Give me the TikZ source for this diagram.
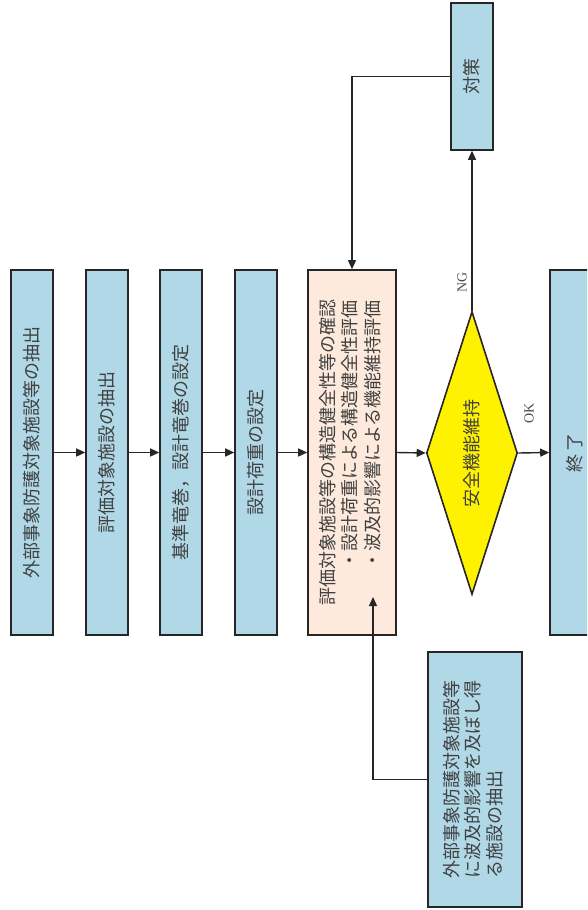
\documentclass[tikz,border=0pt]{standalone}
\usepackage{fontspec}
\setmainfont{Liberation Serif}
\newfontfamily\jp{Noto Sans CJK JP}
\usetikzlibrary{arrows.meta,shapes.geometric}

\begin{document}
\begin{tikzpicture}[
  x=1pt,y=-1pt,
  box/.style={draw=black!85,fill=cyan!25!blue!10!white,line width=1.6pt,
    minimum width=42pt,minimum height=365pt,inner sep=0pt,
    font=\jp\fontsize{18}{22.5}\selectfont,text=black!75},
  check/.style={box,fill=orange!12,minimum width=88pt},
  decision/.style={diamond,draw=black!85,fill=yellow,line width=1.6pt,
    aspect=0.32,minimum width=91pt,minimum height=283pt,inner sep=0pt,
    font=\jp\fontsize{18}{22.5}\selectfont,text=black!75},
  arrow/.style={draw=black!85,line width=1.4pt,-{Triangle[length=9pt,width=8pt]}},
  note/.style={font=\fontsize{14}{16}\selectfont,text=black!70},
]
\definecolor{boxblue}{RGB}{176,216,230}
\definecolor{boxpink}{RGB}{253,234,220}
\tikzset{box/.append style={fill=boxblue},check/.append style={fill=boxpink}}
\useasboundingbox (0,0) rectangle (587,910);

% Main chain
\node[box] (extract) at (32,452.5) {\rotatebox{90}{外部事象防護対象施設等の抽出}};
\node[box] (select) at (107,452.5) {\rotatebox{90}{評価対象施設の抽出}};
\node[box] (tornado) at (181,452.5) {\rotatebox{90}{基準竜巻，設計竜巻の設定}};
\node[box] (load) at (256,452.5) {\rotatebox{90}{設計荷重の設定}};
\node[check] (confirm) at (352,452.5) {\rotatebox{90}{\begin{tabular}{@{}l@{}}
  評価対象施設等の構造健全性等の確認\\
  \hspace*{2em}・設計荷重による構造健全性評価\\
  \hspace*{2em}・波及的影響による機能維持評価\end{tabular}}};
\node[decision] (safe) at (472,453) {\rotatebox{90}{安全機能維持}};
\begin{scope}
  \clip (0,0) rectangle (587,910);
  \node[box,minimum width=50pt] (finish) at (575,452.5) {\rotatebox{90}{終\,了}\hspace{24pt}};
\end{scope}

% Side boxes
\node[box,minimum height=147pt] (measure) at (472,76.5) {\rotatebox{90}{対策}};
\node[box,minimum width=94pt,minimum height=255pt] (impact) at (475,779.5)
  {\rotatebox{90}{\begin{tabular}{@{}l@{}}外部事象防護対象施設等\\[-1pt]
  に波及的影響を及ぼし得\\[-1pt]る施設の抽出\end{tabular}}};

% Connectors
\foreach \a/\b in {extract/select,select/tornado,tornado/load,load/confirm,confirm/safe}
  \draw[arrow] (\a.east) -- (\b.west);
\draw[arrow] (safe.east) -- (finish.west);
\draw[arrow] (safe.north) -- (measure.south);
\draw[arrow] (measure.west) -| (confirm.north);
\coordinate (tip) at (373,597);
\draw[arrow] (impact.west) -| (tip);

\node[note,rotate=90] (ok) at (529,413) {OK};
\node[note,rotate=90] (ng) at (462,282) {NG};

\end{tikzpicture}
\end{document}
